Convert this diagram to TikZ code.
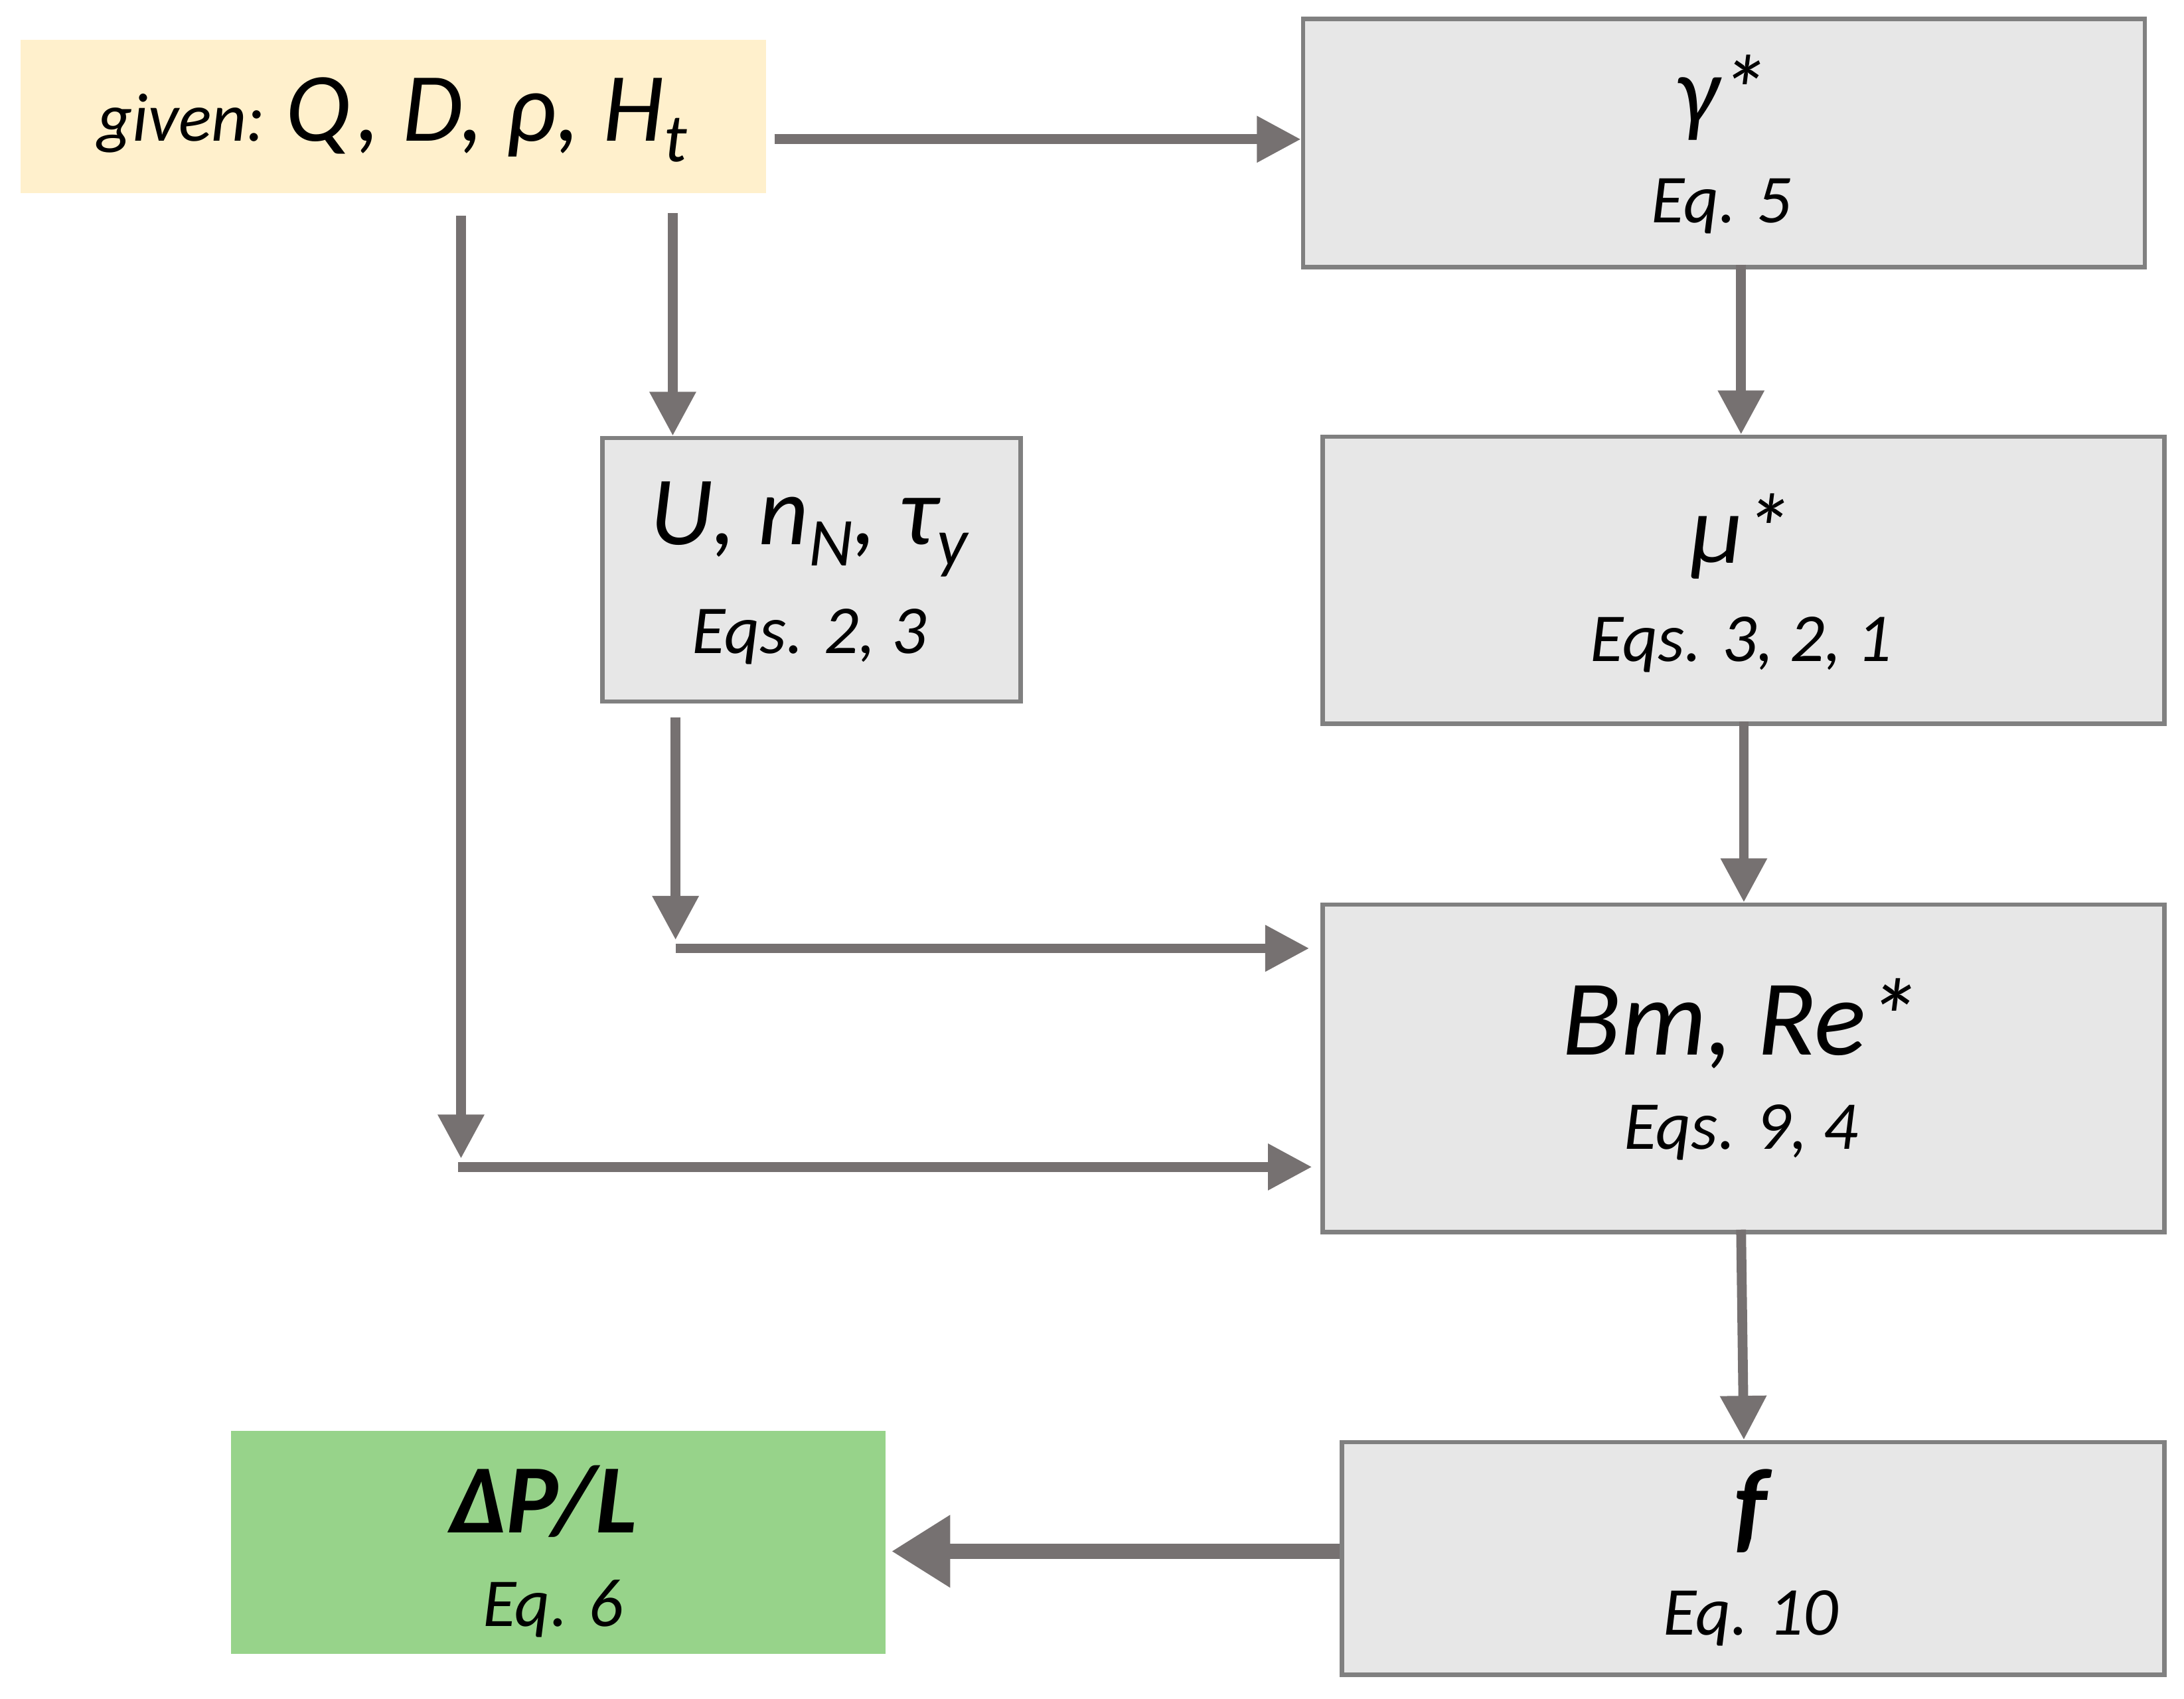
\documentclass[tikz,border=0pt]{standalone}
\usepackage{fontspec}
\setmainfont{Carlito}
\usetikzlibrary{arrows.meta}
\newcommand{\lowr}[1]{\raisebox{-0.45ex}{\fontsize{14}{16}\selectfont #1}}
\begin{document}
\begin{tikzpicture}[x=0.01cm,y=-0.01cm,
  box/.style={draw={rgb,255:red,128;green,128;blue,128},line width=0.9pt,fill={rgb,255:red,231;green,231;blue,231},inner sep=0pt,anchor=north west},
  ttl/.style={font=\itshape\fontsize{20}{24}\selectfont},
  eqt/.style={font=\itshape\fontsize{14}{16}\selectfont},
  arr/.style={draw={rgb,255:red,118;green,113;blue,113},line width=2pt,-{Triangle[length=9pt,width=9pt]}}]
\useasboundingbox (0,0) rectangle (1568,1220);
\node[fill={rgb,255:red,255;green,240;blue,204},anchor=north west,minimum width=5.35cm,minimum height=1.1cm,inner sep=0pt] (given) at (14,28) {};
\node[box,minimum width=6.04cm,minimum height=1.78cm] (gam) at (934,12) {};
\node[box,minimum width=3.0cm,minimum height=1.89cm] (u) at (431,313) {};
\node[box,minimum width=6.04cm,minimum height=2.06cm] (mu) at (948,312) {};
\node[box,minimum width=6.04cm,minimum height=2.35cm] (bm) at (948,648) {};
\node[box,minimum width=5.9cm,minimum height=1.67cm] (f) at (962,1034) {};
\node[fill={rgb,255:red,151;green,211;blue,138},anchor=north west,minimum width=4.7cm,minimum height=1.6cm,inner sep=0pt] (dp) at (165,1027) {};
\node (givent) at (281.5,86) {\itshape\fontsize{14}{16}\selectfont given: \fontsize{20}{22}\selectfont Q, D, ρ, H\lowr{t}};
\node[ttl] (gamt) at (1236,70) {γ*};
\node[eqt] (game) at (1236,148) {Eq. 5};
\node[ttl] (ut) at (581,380) {U, n\lowr{N}, τ\lowr{y}};
\node[eqt] (ue) at (581,457) {Eqs. 2, 3};
\node[ttl] (mut) at (1250,385) {μ*};
\node[eqt] (mue) at (1250,463) {Eqs. 3, 2, 1};
\node[ttl,font=\itshape\fontsize{22}{26}\selectfont] (bmt) at (1250,735) {Bm, Re*};
\node[eqt] (bme) at (1250,813) {Eqs. 9, 4};
\node[ttl,font=\itshape\bfseries\fontsize{21}{24}\selectfont] (ft) at (1257,1085) {f};
\node[eqt] (fe) at (1257,1162) {Eq. 10};
\node[ttl,font=\itshape\bfseries\fontsize{20}{24}\selectfont] (dpt) at (390,1078) {ΔP/L};
\node[eqt] (dpe) at (397,1155) {Eq. 6};
\coordinate (gR) at (556,100); \coordinate (gamL) at (934,100);
\coordinate (gamB) at (1250,190); \coordinate (muT) at (1250,312);
\coordinate (muB) at (1252,518); \coordinate (bmT) at (1252,648);
\coordinate (bmB) at (1250,883); \coordinate (fT) at (1252,1034);
\coordinate (fL) at (962,1114); \coordinate (dpR) at (640,1114);
\coordinate (a1) at (483,153); \coordinate (uT) at (483,313);
\coordinate (b1) at (331,155); \coordinate (b2) at (331,832); \coordinate (b3) at (329,838); \coordinate (bmL2) at (942,838);
\coordinate (c1) at (485,515); \coordinate (c2) at (485,675); \coordinate (c3) at (485,681); \coordinate (bmL1) at (940,681);
\draw[arr] (gR) -- (gamL);
\draw[arr] (a1) -- (uT);
\draw[arr] (b1) -- (b2);
\draw[arr] (b3) -- (bmL2);
\draw[arr] (c1) -- (c2);
\draw[arr] (c3) -- (bmL1);
\draw[arr] (gamB) -- (muT);
\draw[arr] (muB) -- (bmT);
\draw[arr] (bmB) -- (fT);
\draw[arr,line width=3pt,-{Triangle[length=12pt,width=14pt]}] (fL) -- (dpR);
\end{tikzpicture}
\end{document}
